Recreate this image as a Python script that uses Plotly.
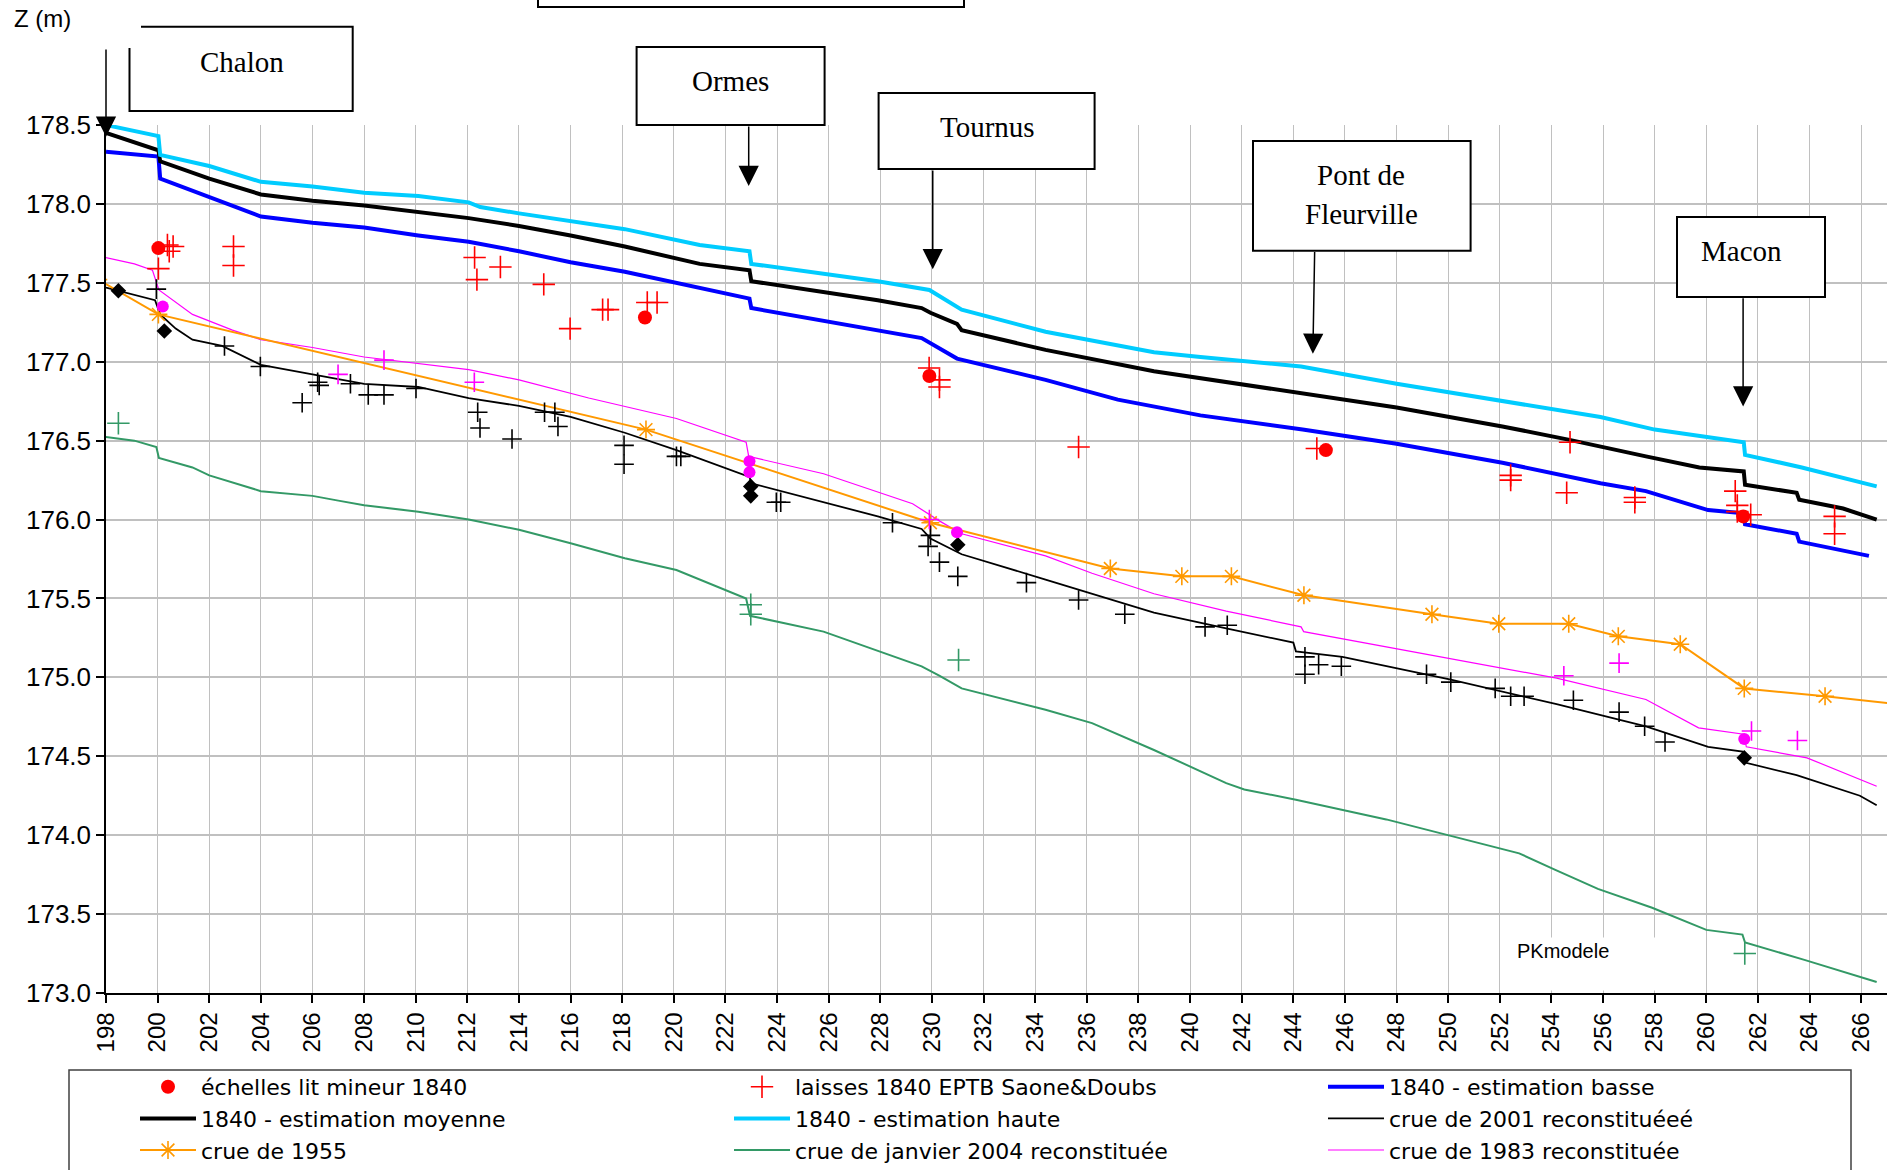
import plotly.graph_objects as go

# ---------------- data (PK km, Z m) ----------------
km_haute = [198.0, 200.03, 200.1, 202.0, 204.0, 206.0, 208.0, 210.1, 212.05, 212.5, 214.0, 216.0, 218.1, 221.0,
            222.93, 223.0, 227.9, 229.9, 231.15, 234.4, 238.6, 240.4, 244.3, 248.0, 252.1, 255.9, 258.0, 260.1,
            261.45, 261.5, 263.7, 266.6]
z_haute = [178.50, 178.43, 178.31, 178.24, 178.14, 178.11, 178.07, 178.05, 178.01, 177.98, 177.94, 177.89, 177.84,
           177.74, 177.70, 177.62, 177.51, 177.455, 177.33, 177.19, 177.06, 177.03, 176.97, 176.86, 176.75, 176.65,
           176.57, 176.52, 176.49, 176.41, 176.33, 176.21]

km_moy = [198.0, 200.03, 200.1, 202.0, 204.0, 206.0, 208.0, 210.1, 212.05, 214.0, 216.0, 218.1, 221.0, 222.93,
          223.0, 227.9, 229.6, 229.94, 230.97, 231.15, 234.4, 238.6, 240.4, 244.36, 248.0, 252.1, 254.7, 257.66,
          259.73, 261.45, 261.5, 263.5, 263.6, 265.3, 266.6]
z_moy = [178.45, 178.34, 178.27, 178.16, 178.06, 178.02, 177.99, 177.95, 177.91, 177.86, 177.80, 177.73, 177.62,
         177.58, 177.51, 177.39, 177.34, 177.31, 177.24, 177.20, 177.075, 176.94, 176.895, 176.80, 176.71, 176.59,
         176.505, 176.40, 176.33, 176.305, 176.22, 176.17, 176.125, 176.07, 176.0]

km_basse = [198.0, 200.03, 200.1, 202.0, 204.0, 206.0, 208.0, 210.1, 212.05, 214.0, 216.0, 218.1, 221.0, 222.93,
            223.0, 227.9, 229.6, 230.97, 234.4, 237.2, 240.4, 244.36, 248.0, 252.1, 255.9, 257.66, 260.07, 261.45,
            261.5, 263.5, 263.6, 266.3]
z_basse = [178.33, 178.30, 178.16, 178.04, 177.92, 177.88, 177.85, 177.80, 177.76, 177.70, 177.63, 177.57, 177.47,
           177.40, 177.34, 177.20, 177.15, 177.02, 176.885, 176.76, 176.66, 176.57, 176.48, 176.36, 176.23, 176.18,
           176.06, 176.04, 175.97, 175.91, 175.86, 175.77]

km_2001 = [197.7, 198.0, 199.9, 200.1, 200.7, 201.35, 202.5, 204.0, 206.0, 208.0, 210.1, 212.05, 214.0, 216.0,
           218.1, 220.1, 222.93, 223.0, 227.9, 229.6, 229.94, 231.15, 234.4, 236.2, 238.6, 241.4, 244.0, 244.1,
           245.9, 250.1, 254.2, 257.66, 260.07, 261.4, 261.5, 263.5, 265.95, 266.6]
z_2001 = [177.49, 177.47, 177.39, 177.30, 177.21, 177.14, 177.10, 176.98, 176.92, 176.86, 176.84, 176.77, 176.72,
          176.65, 176.55, 176.44, 176.27, 176.23, 176.02, 175.94, 175.88, 175.78, 175.62, 175.53, 175.41, 175.31,
          175.22, 175.165, 175.13, 174.985, 174.83, 174.69, 174.56, 174.53, 174.46, 174.38, 174.25, 174.19]

km_1983 = [197.7, 199.1, 199.8, 200.05, 201.35, 202.9, 204.0, 206.0, 208.0, 210.1, 212.05, 214.0, 216.7, 220.1,
           222.8, 222.9, 225.8, 229.25, 230.3, 231.15, 234.4, 236.2, 238.6, 241.4, 244.3, 244.4, 249.0, 254.2,
           257.66, 259.7, 261.45, 261.55, 263.9, 266.6]
z_1983 = [177.67, 177.62, 177.58, 177.455, 177.30, 177.20, 177.14, 177.09, 177.03, 176.99, 176.95, 176.885, 176.77,
          176.64, 176.49, 176.40, 176.29, 176.10, 175.99, 175.91, 175.77, 175.66, 175.53, 175.42, 175.32, 175.29,
          175.15, 174.995, 174.86, 174.68, 174.64, 174.56, 174.49, 174.31]

km_2004 = [197.7, 199.1, 199.95, 200.05, 201.35, 202.0, 204.0, 206.0, 207.0, 208.0, 210.1, 212.05, 214.0, 216.0,
           218.1, 220.1, 222.8, 222.95, 225.8, 229.6, 230.3, 231.15, 234.4, 236.2, 238.6, 241.4, 242.1, 244.1,
           247.6, 250.05, 252.75, 254.15, 255.8, 257.9, 260.0, 261.4, 261.5, 263.8, 266.6]
z_2004 = [176.53, 176.50, 176.46, 176.39, 176.33, 176.28, 176.18, 176.15, 176.12, 176.09, 176.05, 176.00, 175.935,
          175.85, 175.755, 175.68, 175.50, 175.39, 175.29, 175.07, 175.01, 174.93, 174.795, 174.71, 174.54, 174.33,
          174.29, 174.225, 174.10, 174.00, 173.885, 173.78, 173.66, 173.54, 173.40, 173.37, 173.32, 173.21, 173.07]

km_1955 = [197.7, 200.03, 218.92, 229.94, 236.91, 239.68, 241.6, 244.41, 249.37, 251.96, 254.67, 256.59, 258.99,
           261.47, 264.6, 268.0]
z_1955 = [177.52, 177.30, 176.57, 175.98, 175.69, 175.64, 175.64, 175.52, 175.40, 175.34, 175.34, 175.26, 175.21,
          174.93, 174.88, 174.82]

km_echelles = [200.03, 218.88, 229.9, 245.26, 261.43]
z_echelles = [177.72, 177.28, 176.91, 176.44, 176.02]

km_laisses = [200.03, 200.38, 200.6, 200.45, 202.94, 202.94, 212.28, 212.37, 213.28, 214.96, 215.98, 217.24, 217.45,
              218.97, 219.35, 229.89, 230.29, 230.29, 235.68, 244.91, 252.42, 252.42, 254.59, 254.72, 257.23, 257.23,
              261.12, 261.2, 261.2, 261.72, 264.97, 264.97]
z_laisses = [177.59, 177.74, 177.73, 177.70, 177.73, 177.61, 177.66, 177.52, 177.60, 177.49, 177.21, 177.33, 177.33,
             177.375, 177.375, 176.96, 176.885, 176.84, 176.46, 176.45, 176.28, 176.25, 176.17, 176.49, 176.14,
             176.11, 176.18, 176.09, 176.05, 176.03, 176.02, 175.91]

km_obs2001 = [199.95, 202.59, 203.98, 205.6, 206.2, 206.26, 207.47, 208.16, 208.77, 210.01, 212.4, 212.49, 213.73,
              214.99, 215.39, 215.51, 218.07, 218.07, 220.1, 220.27, 223.97, 224.14, 228.47, 229.94, 229.85, 230.29,
              231.0, 233.66, 235.68, 237.47, 240.58, 241.44, 244.45, 244.45, 244.98, 245.86, 249.16, 250.1, 251.82,
              252.42, 252.94, 254.85, 256.62, 257.61, 258.4]
z_obs2001 = [177.46, 177.10, 176.97, 176.74, 176.87, 176.85, 176.86, 176.79, 176.79, 176.83, 176.68, 176.58, 176.51,
             176.68, 176.68, 176.59, 176.47, 176.35, 176.40, 176.40, 176.11, 176.11, 175.98, 175.90, 175.83, 175.73,
             175.64, 175.60, 175.49, 175.40, 175.32, 175.33, 175.13, 175.02, 175.08, 175.07, 175.02, 174.97, 174.93,
             174.88, 174.88, 174.855, 174.78, 174.69, 174.59]

km_diamonds = [198.48, 200.26, 222.98, 222.98, 231.0, 261.47]
z_diamonds = [177.45, 177.195, 176.21, 176.15, 175.84, 174.49]

km_mag_pts = [200.2, 222.93, 222.93, 230.97, 261.47]
z_mag_pts = [177.35, 176.37, 176.30, 175.92, 174.61]

km_mag_plus = [206.99, 208.77, 212.27, 229.9, 254.48, 256.62, 261.75, 263.53]
z_mag_plus = [176.92, 177.01, 176.87, 176.00, 175.01, 175.09, 174.66, 174.60]

km_green_plus = [198.48, 222.98, 222.98, 231.03, 261.49]
z_green_plus = [176.61, 175.46, 175.40, 175.11, 173.25]

x_ticks = list(range(198, 267, 2))
y_ticks = [173.0, 173.5, 174.0, 174.5, 175.0, 175.5, 176.0, 176.5, 177.0, 177.5, 178.0, 178.5]

# ---------------- geometry helpers (page pixels -> paper) ----------------
W, H = 1899, 1170
PX_L, PX_R, PX_T, PX_B = 106, 1887, 125, 993


def px(xp):
    return (xp - PX_L) / (PX_R - PX_L)


def py(yp):
    return (PX_B - yp) / (PX_B - PX_T)


SANS = "Liberation Sans, Arial, sans-serif"
LEG = "DejaVu Sans, Liberation Sans, sans-serif"
SERIF = "Liberation Serif, Times New Roman, serif"

fig = go.Figure()

# lines
fig.add_trace(go.Scatter(x=km_2004, y=z_2004, mode="lines", name="crue de janvier 2004 reconstituée",
                         line=dict(color="#339966", width=2), legendrank=8))
fig.add_trace(go.Scatter(x=km_1983, y=z_1983, mode="lines", name="crue de 1983 reconstituée",
                         line=dict(color="#FF00FF", width=1.2), legendrank=9))
fig.add_trace(go.Scatter(x=km_2001, y=z_2001, mode="lines", name="crue de 2001 reconstituéeé",
                         line=dict(color="#000000", width=1.8), legendrank=6))
fig.add_trace(go.Scatter(x=km_1955, y=z_1955, mode="lines+markers", name="crue de 1955",
                         line=dict(color="#FF9900", width=2),
                         marker=dict(symbol="asterisk", size=15, color="#FF9900",
                                     line=dict(color="#FF9900", width=1.6)), legendrank=7))
fig.add_trace(go.Scatter(x=km_basse, y=z_basse, mode="lines", name="1840 - estimation basse",
                         line=dict(color="#0000FF", width=4), legendrank=3))
fig.add_trace(go.Scatter(x=km_moy, y=z_moy, mode="lines", name="1840 - estimation moyenne",
                         line=dict(color="#000000", width=4), legendrank=4))
fig.add_trace(go.Scatter(x=km_haute, y=z_haute, mode="lines", name="1840 - estimation haute",
                         line=dict(color="#00CCFF", width=4), legendrank=5))

# point series without legend entries
fig.add_trace(go.Scatter(x=km_obs2001, y=z_obs2001, mode="markers", showlegend=False,
                         marker=dict(symbol="cross-thin", size=14, color="#000000",
                                     line=dict(color="#000000", width=1.6))))
fig.add_trace(go.Scatter(x=km_diamonds, y=z_diamonds, mode="markers", showlegend=False,
                         marker=dict(symbol="diamond", size=12, color="#000000")))
fig.add_trace(go.Scatter(x=km_mag_plus, y=z_mag_plus, mode="markers", showlegend=False,
                         marker=dict(symbol="cross-thin", size=14, color="#FF00FF",
                                     line=dict(color="#FF00FF", width=1.6))))
fig.add_trace(go.Scatter(x=km_mag_pts, y=z_mag_pts, mode="markers", showlegend=False,
                         marker=dict(symbol="circle", size=12, color="#FF00FF")))
fig.add_trace(go.Scatter(x=km_green_plus, y=z_green_plus, mode="markers", showlegend=False,
                         marker=dict(symbol="cross-thin", size=16, color="#339966",
                                     line=dict(color="#339966", width=1.6))))

# 1840 points
fig.add_trace(go.Scatter(x=km_laisses, y=z_laisses, mode="markers", name="laisses 1840 EPTB Saone&Doubs",
                         marker=dict(symbol="cross-thin", size=16, color="#FF0000",
                                     line=dict(color="#FF0000", width=1.6)), legendrank=2))
fig.add_trace(go.Scatter(x=km_echelles, y=z_echelles, mode="markers", name="échelles lit mineur 1840",
                         marker=dict(symbol="circle", size=14, color="#FF0000"), legendrank=1))

# ---------------- decorations ----------------
shapes = []
annotations = []


def box(x0, y0, x1, y1):
    shapes.append(dict(type="rect", xref="paper", yref="paper", x0=px(x0), x1=px(x1), y0=py(y1), y1=py(y0),
                       line=dict(color="black", width=2), fillcolor="white", layer="above"))


# cut-off box at the top
box(538, -20, 964, 7)
# Chalon box (its top-left corner is hidden)
shapes.append(dict(type="path", xref="paper", yref="paper", layer="above",
                   path="M %f,%f L %f,%f L %f,%f L %f,%f L %f,%f" % (
                       px(141), py(26.7), px(352.7), py(26.7), px(352.7), py(111),
                       px(129.5), py(111), px(129.5), py(48)),
                   line=dict(color="black", width=2)))
box(636.6, 47, 824.6, 125)
box(878.6, 93, 1094.6, 169)
box(1253, 141, 1470.6, 250.7)
box(1677, 217, 1825, 297)
# legend frame
shapes.append(dict(type="rect", xref="paper", yref="paper", x0=px(69), x1=px(1851), y0=py(1190), y1=py(1070),
                   line=dict(color="#404040", width=1.5), fillcolor="rgba(0,0,0,0)", layer="above"))

town_labels = [("Chalon", 242, 61.7), ("Ormes", 730.6, 81), ("Tournus", 987, 126.7),
               ("Pont de", 1361.4, 175), ("Fleurville", 1361.4, 214.3), ("Macon", 1741, 250.7)]
for t, xx, yy in town_labels:
    annotations.append(dict(text=t, xref="paper", yref="paper", x=px(xx), y=py(yy), xanchor="center",
                            yanchor="middle", showarrow=False, font=dict(family=SERIF, size=29, color="black")))

# arrows: (tip km, tip z, dx px, dy px)
arrows = [(198.0, 178.426, 0, -88.7), (222.90, 178.114, 0, -61), (230.03, 177.586, 0, -100.3),
          (244.757, 177.05, 1.8, -103.3), (261.425, 176.716, 0, -109.7)]
for xk, zk, dx, dy in arrows:
    annotations.append(dict(text="", x=xk, y=zk, xref="x", yref="y", ax=dx, ay=dy, showarrow=True,
                            arrowhead=2, arrowsize=2.7, arrowwidth=1.5, arrowcolor="black", standoff=0))

annotations.append(dict(text="Z (m)", xref="paper", yref="paper", x=px(12), y=py(19), xanchor="left",
                        yanchor="middle", showarrow=False, font=dict(family=SANS, size=24, color="black")))
annotations.append(dict(text="PKmodele", xref="paper", yref="paper", x=px(1514), y=py(937), xanchor="left",
                        yanchor="top", showarrow=False, width=160, height=48, align="left", valign="top",
                        bgcolor="white", borderpad=2, font=dict(family=SANS, size=20, color="black")))

fig.update_layout(
    width=W, height=H,
    margin=dict(l=PX_L, r=W - PX_R, t=PX_T, b=H - PX_B, autoexpand=False),
    paper_bgcolor="white", plot_bgcolor="white",
    showlegend=True,
    legend=dict(orientation="h", x=px(135), y=py(1066), xanchor="left", yanchor="top",
                font=dict(family=LEG, size=22, color="black"), itemwidth=56,
                entrywidth=523, entrywidthmode="pixels", bgcolor="rgba(0,0,0,0)", borderwidth=0,
                traceorder="normal"),
    shapes=shapes, annotations=annotations,
    font=dict(family=SANS, color="black"),
)
fig.update_xaxes(range=[198, 267], tickmode="array", tickvals=x_ticks, ticktext=[str(v) for v in x_ticks],
                 tickangle=-90, showgrid=True, gridcolor="#c0c0c0", gridwidth=1.3, zeroline=False,
                 showline=True, linecolor="black", linewidth=1.5, ticks="outside", ticklen=8,
                 tickcolor="black", tickwidth=1.5, tickfont=dict(family=SANS, size=24, color="black"))
fig.update_yaxes(range=[173, 178.5], tickmode="array", tickvals=y_ticks, ticktext=["%.1f" % v for v in y_ticks],
                 showgrid=True, gridcolor="#c0c0c0", gridwidth=2, zeroline=False,
                 showline=True, linecolor="black", linewidth=1.5, ticks="outside", ticklen=8,
                 tickcolor="black", tickwidth=1.5, tickfont=dict(family=SANS, size=26, color="black"))

fig.write_html("out.html", config={"displayModeBar": False},
               post_script="document.body.style.margin='0px';")
